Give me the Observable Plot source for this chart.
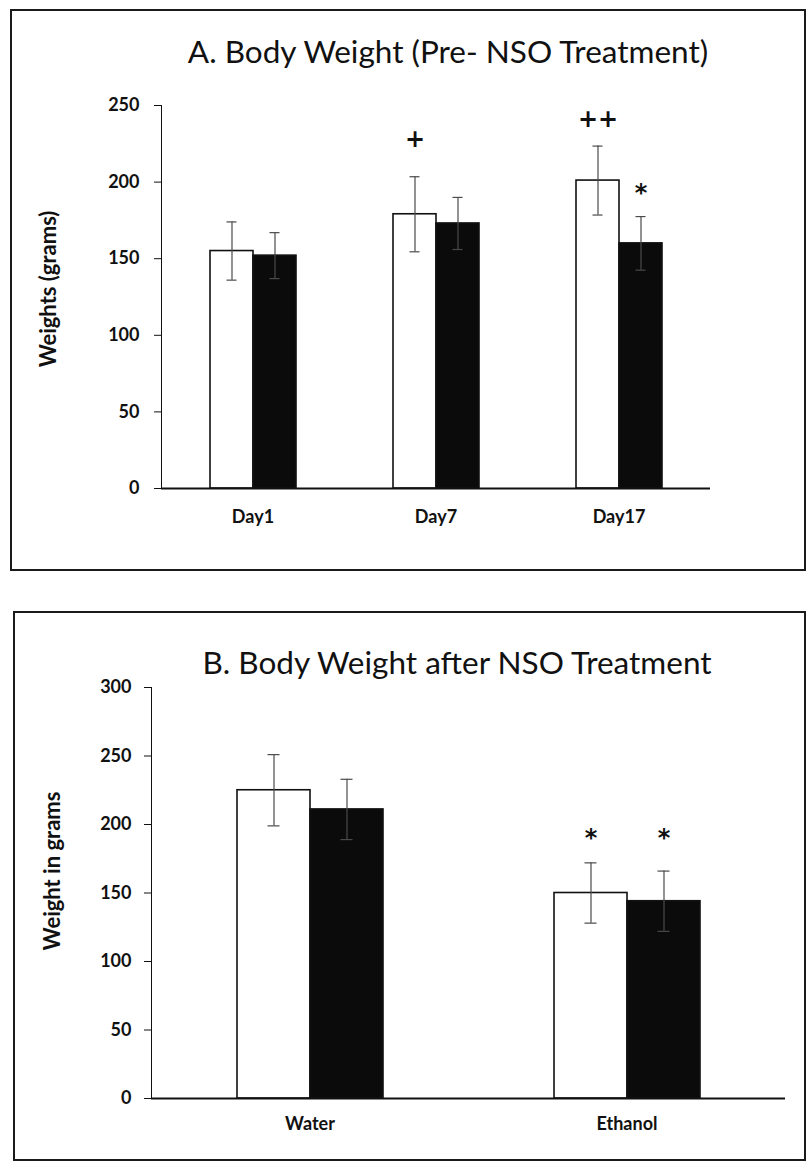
<!DOCTYPE html>
<html><head><meta charset="utf-8">
<script src="https://cdn.jsdelivr.net/npm/d3@7"></script>
<script src="https://cdn.jsdelivr.net/npm/@observablehq/plot@0.6"></script>
<style>
body{margin:0;background:#fff;}
#root{position:relative;width:809px;height:1165px;overflow:hidden;font-family:Lato,"Open Sans",sans-serif;}
.panel{position:absolute;box-sizing:border-box;border:2px solid #1a1a1a;background:#fff;}
.panel .chart{position:absolute;left:0;top:0;}
.title{position:absolute;white-space:nowrap;transform:translate(-50%,-50%);font-size:31.5px;color:#111;line-height:1;}
</style></head>
<body>
<div id="root">
 <div class="panel" id="pA" style="left:10px;top:9px;width:796px;height:562px">
   <div class="chart" id="cA"></div>
   <div class="title" style="left:436px;top:41px">A. Body Weight (Pre- NSO Treatment)</div>
 </div>
 <div class="panel" id="pB" style="left:13px;top:611px;width:793px;height:550px">
   <div class="chart" id="cB"></div>
   <div class="title" style="left:442px;top:50px">B. Body Weight after NSO Treatment</div>
 </div>
</div>
<script>
// ---- Panel A data ----
const seriesNames = ["Group 1", "Group 2"]; // white bars, black bars
const daysA = ["Day1", "Day7", "Day17"];
const meanA1 = [155, 179, 201];
const errA1 = [19, 24.5, 22.5];
const meanA2 = [152, 173, 160];
const errA2 = [15, 17, 17.5];
const yTicksA = [0, 50, 100, 150, 200, 250];
const markA_cat = ["Day7", "Day17", "Day17"];
const markA_series = ["Group 1", "Group 1", "Group 2"];
const markA_text = ["+", "++", "*"];
const markA_y = [228, 241, 193];

// ---- Panel B data ----
const groupsB = ["Water", "Ethanol"];
const meanB1 = [225, 150];
const errB1 = [26, 22];
const meanB2 = [211, 144];
const errB2 = [22, 22];
const yTicksB = [0, 50, 100, 150, 200, 250, 300];
const markB_cat = ["Ethanol", "Ethanol"];
const markB_series = ["Group 1", "Group 2"];
const markB_text = ["*", "*"];
const markB_y = [190, 190];

function buildRows(cats, m1, e1, m2, e2) {
  const rows = [];
  cats.forEach((c, i) => {
    rows.push({cat: c, series: seriesNames[0], mean: m1[i], lo: m1[i] - e1[i], hi: m1[i] + e1[i]});
    rows.push({cat: c, series: seriesNames[1], mean: m2[i], lo: m2[i] - e2[i], hi: m2[i] + e2[i]});
  });
  return rows;
}
function buildMarks(cats, series, texts, ys) {
  return cats.map((c, i) => ({cat: c, series: series[i], label: texts[i], y: ys[i]}));
}

function chart(o) {
  return Plot.plot({
    width: o.width, height: o.height,
    marginLeft: o.ml, marginRight: o.mr, marginTop: o.mt, marginBottom: o.mb,
    style: {fontFamily: "Lato, 'Open Sans', sans-serif", fontSize: "18px", fontWeight: "bold", color: "#111", background: "transparent", overflow: "visible"},
    fx: {domain: o.cats, padding: 0, label: null, axis: "bottom", tickSize: 0, tickPadding: o.fxPad},
    x: {domain: seriesNames, axis: null, paddingInner: 0, paddingOuter: o.xOuter},
    y: {domain: [0, o.yMax], ticks: o.yTicks, tickSize: 7, tickPadding: o.yPad, line: true, label: null},
    color: {domain: seriesNames, range: ["#ffffff", "#0b0b0b"]},
    marks: [
      Plot.barY(o.rows, {fx: "cat", x: "series", y: "mean", fill: "series", stroke: "#111", strokeWidth: 1.6}),
      Plot.ruleX(o.rows, {fx: "cat", x: "series", y1: "lo", y2: "hi", stroke: "#4a4a4a", strokeWidth: 1.2}),
      Plot.tickY(o.rows, {fx: "cat", x: "series", y: "hi", stroke: "#4a4a4a", strokeWidth: 1.2, insetLeft: o.capInset, insetRight: o.capInset}),
      Plot.tickY(o.rows, {fx: "cat", x: "series", y: "lo", stroke: "#4a4a4a", strokeWidth: 1.2, insetLeft: o.capInset, insetRight: o.capInset}),
      Plot.ruleY([0], {stroke: "#111", strokeWidth: 2}),
      Plot.text(o.annots, {fx: "cat", x: "series", y: "y", text: "label", fontSize: 24, fontWeight: "bold", fontFamily: "'DejaVu Sans', sans-serif"}),
      Plot.text([o.cats[0]], {fx: d => d, text: () => o.yLabel, frameAnchor: "left", textAnchor: "middle", lineAnchor: "middle", rotate: -90, dx: o.yLabelDx, dy: o.yLabelDy, fontSize: 22, fontWeight: "bold"})
    ]
  });
}

document.getElementById("cA").append(chart({
  width: 792, height: 558, ml: 148, mr: 94, mt: 94, mb: 81,
  cats: daysA, rows: buildRows(daysA, meanA1, errA1, meanA2, errA2),
  annots: buildMarks(markA_cat, markA_series, markA_text, markA_y),
  yMax: 250, yTicks: yTicksA, yPad: 15, fxPad: 22, xOuter: 1.08, capInset: 16.5,
  yLabel: "Weights (grams)", yLabelDx: -113, yLabelDy: -8
}));

document.getElementById("cB").append(chart({
  width: 789, height: 546, ml: 135, mr: 19, mt: 74, mb: 61,
  cats: groupsB, rows: buildRows(groupsB, meanB1, errB1, meanB2, errB2),
  annots: buildMarks(markB_cat, markB_series, markB_text, markB_y),
  yMax: 300, yTicks: yTicksB, yPad: 13, fxPad: 19, xOuter: 1.145, capInset: 30.5,
  yLabel: "Weight in grams", yLabelDx: -99, yLabelDy: -22
}));
</script>
</body></html>
